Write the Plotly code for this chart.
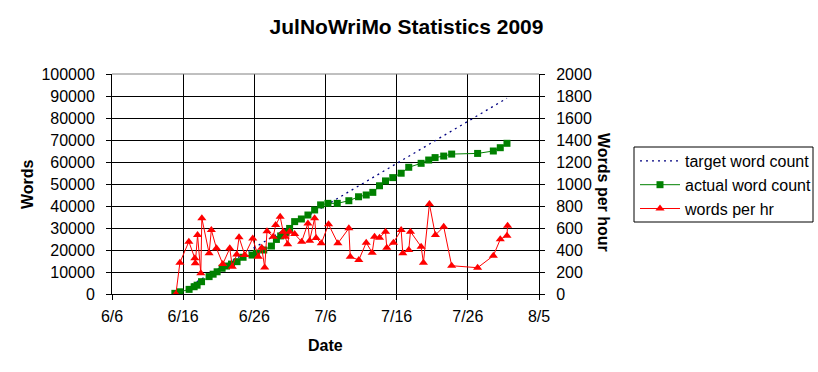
import plotly.graph_objects as go

# ---------------- data ----------------
target_dates = ["2009-06-15 00:00", "2009-07-31 12:00"]
target_words = [0, 89000]

count_dates = [
    "2009-06-14 20:00", "2009-06-15 13:00", "2009-06-16 20:00", "2009-06-17 13:00",
    "2009-06-17 23:00", "2009-06-18 14:00", "2009-06-19 15:30", "2009-06-20 05:00",
    "2009-06-20 18:30", "2009-06-21 11:15", "2009-06-22 02:00", "2009-06-22 19:00",
    "2009-06-23 13:45", "2009-06-24 10:00", "2009-06-25 16:15", "2009-06-26 07:00",
    "2009-06-27 07:40", "2009-06-28 09:40", "2009-06-29 02:30", "2009-06-29 16:50",
    "2009-06-30 09:40", "2009-06-30 23:00", "2009-07-01 16:00", "2009-07-02 14:40",
    "2009-07-03 12:45", "2009-07-04 11:20", "2009-07-05 07:30", "2009-07-06 08:10",
    "2009-07-07 15:40", "2009-07-09 06:45", "2009-07-10 15:25", "2009-07-11 17:20",
    "2009-07-12 15:35", "2009-07-13 14:10", "2009-07-14 10:20", "2009-07-15 10:50",
    "2009-07-16 15:10", "2009-07-17 16:45", "2009-07-19 10:30", "2009-07-20 12:00",
    "2009-07-21 09:35", "2009-07-22 14:40", "2009-07-23 17:30", "2009-07-27 09:00",
    "2009-07-29 14:00", "2009-07-30 13:25", "2009-07-31 12:00",
]
actual_words = [
    300, 1000, 2100, 3300, 4000, 5600, 7900, 9000, 10100, 11700, 12700, 13600,
    14700, 16700, 17700, 18500, 20000, 21800, 24800, 26400, 27900, 29800, 32900,
    34100, 35900, 38200, 40500, 41200, 41200, 42400, 44200, 45000, 46200, 49200,
    51400, 52900, 54900, 57600, 59400, 60900, 62000, 62700, 63600, 63900, 65000,
    66500, 68500,
]

rate_dates = [
    "2009-06-14 23:30", "2009-06-15 13:00", "2009-06-16 19:10", "2009-06-17 15:20",
    "2009-06-17 17:00", "2009-06-18 00:30", "2009-06-18 11:30", "2009-06-18 15:00",
    "2009-06-19 15:30", "2009-06-19 23:00", "2009-06-20 16:20", "2009-06-21 13:40",
    "2009-06-22 13:10", "2009-06-22 21:40", "2009-06-23 12:45", "2009-06-23 20:25",
    "2009-06-24 15:40", "2009-06-25 18:40", "2009-06-26 13:10", "2009-06-27 01:00",
    "2009-06-27 11:00", "2009-06-27 18:45", "2009-06-28 15:40", "2009-06-29 00:00",
    "2009-06-29 15:10", "2009-06-30 01:10", "2009-06-30 08:00", "2009-06-30 16:20",
    "2009-06-30 23:00", "2009-07-01 16:00", "2009-07-02 15:35", "2009-07-03 12:45",
    "2009-07-03 18:30", "2009-07-04 11:20", "2009-07-04 16:20", "2009-07-05 09:50",
    "2009-07-06 10:20", "2009-07-07 17:45", "2009-07-09 06:45", "2009-07-09 11:30",
    "2009-07-10 16:20", "2009-07-11 17:20", "2009-07-12 13:30", "2009-07-12 21:20",
    "2009-07-13 14:10", "2009-07-14 10:20", "2009-07-14 14:40", "2009-07-15 13:10",
    "2009-07-16 15:10", "2009-07-16 20:40", "2009-07-17 16:45", "2009-07-17 22:30",
    "2009-07-19 10:30", "2009-07-19 18:15", "2009-07-20 14:25", "2009-07-21 10:35",
    "2009-07-22 14:40", "2009-07-23 17:30", "2009-07-27 09:00", "2009-07-29 14:00",
    "2009-07-30 13:25", "2009-07-31 12:00", "2009-07-31 14:00",
]
words_per_hr = [
    0, 285, 476, 324, 279, 536, 188, 688, 370, 582, 415, 273,
    415, 248, 360, 515, 355, 505, 339, 420, 240, 570, 521, 627,
    703, 567, 520, 452, 567, 545, 476, 642, 485, 688, 510, 461,
    633, 461, 597, 339, 309, 467, 376, 521, 512, 567, 421, 467,
    582, 370, 400, 567, 430, 285, 818, 536, 612, 257, 239, 348,
    497, 530, 621,
]

x_tickvals = ["2009-06-06", "2009-06-16", "2009-06-26", "2009-07-06",
              "2009-07-16", "2009-07-26", "2009-08-05"]
x_ticktext = ["6/6", "6/16", "6/26", "7/6", "7/16", "7/26", "8/5"]

# ---------------- figure ----------------
FONT = "Liberation Sans, Arial, sans-serif"
W, H = 818, 372
PL, PR, PT, PB = 112, 539, 74, 294
PW, PH = PR - PL, PB - PT


def px_x(p):
    return (p - PL) / PW


def px_y(p):
    return (PB - p) / PH


fig = go.Figure()
fig.add_trace(go.Scatter(
    x=target_dates, y=target_words, name="target word count", mode="lines",
    line=dict(color="#000080", width=1.3, dash="2px,4px"),
))
fig.add_trace(go.Scatter(
    x=count_dates, y=actual_words, name="actual word count", mode="lines+markers",
    line=dict(color="#008000", width=1),
    marker=dict(symbol="square", size=7, color="#008000"),
))
fig.add_trace(go.Scatter(
    x=rate_dates, y=words_per_hr, name="words per hr", mode="lines+markers",
    yaxis="y2",
    line=dict(color="#FF0000", width=1),
    marker=dict(symbol="triangle-up", size=8, color="#FF0000"),
))

axis_common = dict(
    showline=True, linecolor="black", linewidth=1,
    ticks="outside", ticklen=5, tickcolor="black", tickwidth=1,
    tickfont=dict(family=FONT, size=16, color="black"),
    zeroline=False,
)

fig.update_layout(
    width=W, height=H,
    margin=dict(l=PL, r=W - PR, t=PT, b=H - PB),
    paper_bgcolor="white", plot_bgcolor="white",
    font=dict(family=FONT, size=16, color="black"),
    showlegend=True,
    title=dict(
        text="<b>JulNoWriMo Statistics 2009</b>",
        font=dict(family=FONT, size=21, color="black"),
        xref="container", x=0.497, xanchor="center",
        yref="container", y=1 - 27 / H, yanchor="middle",
    ),
    xaxis=dict(
        type="date", range=["2009-06-06", "2009-08-05"],
        tickmode="array", tickvals=x_tickvals, ticktext=x_ticktext,
        showgrid=True, gridcolor="black", gridwidth=1,
        ticklabelstandoff=3,
        **axis_common,
    ),
    yaxis=dict(
        range=[0, 100000], tick0=0, dtick=10000, tickformat="d",
        showgrid=True, gridcolor="black", gridwidth=1,
        ticklabelstandoff=8,
        **axis_common,
    ),
    yaxis2=dict(
        range=[0, 2000], tick0=0, dtick=200, tickformat="d",
        overlaying="y", side="right", showgrid=False,
        ticklabelstandoff=8,
        **axis_common,
    ),
    legend=dict(
        xref="container", yref="container",
        x=635 / W, y=1 - 144 / H,
        xanchor="left", yanchor="top",
        borderwidth=0, bgcolor="rgba(0,0,0,0)",
        font=dict(family=FONT, size=16, color="black"),
        tracegroupgap=0, itemwidth=40,
    ),
    annotations=[
        dict(text="<b>Words</b>", xref="paper", yref="paper",
             x=px_x(27), y=0.5, xanchor="center", yanchor="middle",
             textangle=-90, showarrow=False, font=dict(family=FONT, size=16)),
        dict(text="<b>Words per hour</b>", xref="paper", yref="paper",
             x=px_x(604), y=px_y(192), xanchor="center", yanchor="middle",
             textangle=90, showarrow=False, font=dict(family=FONT, size=16)),
        dict(text="<b>Date</b>", xref="paper", yref="paper",
             x=0.5, y=px_y(345), xanchor="center", yanchor="middle",
             showarrow=False, font=dict(family=FONT, size=16)),
    ],
    shapes=[
        dict(type="line", xref="paper", yref="paper", x0=0, x1=1, y0=1, y1=1,
             line=dict(color="#808080", width=1), layer="above"),
        dict(type="rect", xref="paper", yref="paper",
             x0=px_x(634), x1=px_x(813), y0=px_y(147), y1=px_y(222),
             line=dict(color="black", width=1), fillcolor="rgba(0,0,0,0)",
             layer="above"),
    ],
)

fig.write_html("out.html", config={"displayModeBar": False},
               post_script="document.body.style.margin='0';")
